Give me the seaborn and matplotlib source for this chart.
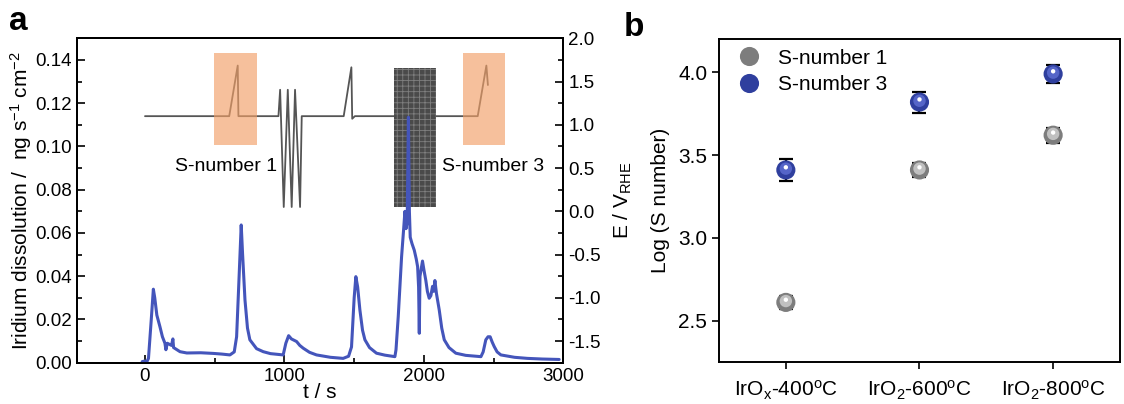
import numpy as np
import pandas as pd
import seaborn as sns
import matplotlib.pyplot as plt
from matplotlib.ticker import MultipleLocator

# panel a: iridium dissolution trace
time_s = [-20, 0, 10, 25, 45, 60, 70, 85, 107, 125, 143, 150, 160, 190, 200, 205, 251, 300, 400, 490,
          550, 609, 640, 657, 675, 690, 700, 717, 735, 752, 800, 848, 900, 991, 1010, 1030, 1050, 1087,
          1110, 1135, 1180, 1230, 1330, 1421, 1460, 1481, 1500, 1512, 1525, 1541, 1560, 1577, 1610,
          1660, 1720, 1792, 1800, 1816, 1840, 1855, 1864, 1872, 1880, 1889, 1896, 1902, 1915, 1931,
          1945, 1955, 1962, 1967, 1972, 1990, 2000, 2014, 2025, 2038, 2050, 2062, 2070, 2079, 2090,
          2110, 2128, 2146, 2180, 2229, 2300, 2409, 2425, 2444, 2460, 2475, 2490, 2504, 2525, 2552,
          2650, 2743, 2850, 2970]
ir_diss = [0.0005, 0.0008, 0.0, 0.002, 0.020, 0.034, 0.030, 0.022, 0.0167, 0.012, 0.009, 0.006, 0.009,
           0.008, 0.011, 0.007, 0.0051, 0.0045, 0.0046, 0.0043, 0.0040, 0.0036, 0.0050, 0.012, 0.040,
           0.0637, 0.050, 0.029, 0.016, 0.0106, 0.0065, 0.0051, 0.0042, 0.0036, 0.009, 0.0125, 0.011,
           0.0098, 0.008, 0.0067, 0.0048, 0.0036, 0.0025, 0.002, 0.003, 0.0073, 0.030, 0.0398, 0.035,
           0.0244, 0.015, 0.0106, 0.007, 0.0044, 0.0035, 0.0028, 0.006, 0.0213, 0.049, 0.062, 0.070,
           0.062, 0.065, 0.1135, 0.070, 0.058, 0.055, 0.052, 0.048, 0.0444, 0.035, 0.0136, 0.040,
           0.047, 0.043, 0.038, 0.033, 0.0298, 0.031, 0.0353, 0.033, 0.038, 0.032, 0.0244, 0.016,
           0.0106, 0.007, 0.0044, 0.0034, 0.0028, 0.005, 0.0106, 0.012, 0.012, 0.0095, 0.0075, 0.005,
           0.0036, 0.0025, 0.002, 0.0017, 0.0015]

# potential programme (right axis)
pot_t = [0, 604, 665, 670, 957, 969, 995, 1024, 1052, 1076, 1112, 1124, 1425, 1480, 1486, 1505, 1785,
         2088, 2386, 2448, 2459]
pot_e = [1.1, 1.1, 1.685, 1.1, 1.1, 1.405, 0.05, 1.405, 0.05, 1.405, 0.05, 1.1, 1.1, 1.665, 1.07, 1.1,
         1.1, 1.1, 1.1, 1.685, 1.46]
block_t = [1785, 2088]
block_e = [0.05, 1.654]
box_t = [(495, 801), (2279, 2584)]
box_e = [0.761, 1.834]

# panel b
samples = ['IrO$_{\\mathrm{x}}$-400$^{\\mathrm{o}}$C', 'IrO$_2$-600$^{\\mathrm{o}}$C',
           'IrO$_2$-800$^{\\mathrm{o}}$C']
s1 = [2.61, 3.41, 3.62]
s1_err = [0.04, 0.04, 0.045]
s3 = [3.41, 3.82, 3.99]
s3_err = [0.065, 0.063, 0.053]

sns.set_style('ticks')
plt.rcParams['font.family'] = ['Liberation Sans', 'DejaVu Sans']
plt.rcParams['mathtext.fontset'] = 'custom'
plt.rcParams['mathtext.rm'] = 'Liberation Sans'
plt.rcParams['mathtext.it'] = 'Liberation Sans:italic'
plt.rcParams['axes.unicode_minus'] = False
plt.rcParams['hatch.linewidth'] = 0.6
for k in ['text.color', 'axes.labelcolor', 'xtick.color', 'ytick.color', 'axes.edgecolor']:
    plt.rcParams[k] = 'black'

fig = plt.figure(figsize=(11.24, 4.04), dpi=100)
ax = fig.add_axes([0.0682, 0.1022, 0.4330, 0.8030])
ax2 = ax.twinx()
axb = fig.add_axes([0.6397, 0.1040, 0.3567, 0.7990])

fs = 13.5
fsb = 15

# ---- panel a
df = pd.DataFrame({'t': time_s, 'v': ir_diss})
sns.lineplot(data=df, x='t', y='v', ax=ax, color='#4455bb', lw=2.2, sort=False, estimator=None)
ax.set_xlim(-490, 3000)
ax.set_ylim(0, 0.15)
ax.xaxis.set_major_locator(MultipleLocator(1000))
ax.xaxis.set_minor_locator(MultipleLocator(500))
ax.yaxis.set_major_locator(MultipleLocator(0.02))
ax.yaxis.set_minor_locator(MultipleLocator(0.01))
ax.yaxis.set_major_formatter(plt.FormatStrFormatter('%.2f'))
ax.tick_params(which='both', direction='in', labelsize=fs, width=1.2, top=False)
ax.tick_params(which='major', length=6)
ax.tick_params(which='minor', length=3.5)
ax.set_xlabel('t / s', fontsize=fsb, labelpad=-1)
ax.set_ylabel('Iridium dissolution /  ng s$^{-1}$ cm$^{-2}$', fontsize=fsb, labelpad=1)

dp = pd.DataFrame({'t': pot_t, 'E': pot_e})
sns.lineplot(data=dp, x='t', y='E', ax=ax2, color='#555555', lw=1.3, sort=False, estimator=None)
ax2.fill_between(block_t, block_e[0], block_e[1], facecolor='#4a4a4a', edgecolor='#7f7f7f',
                 hatch='+++', lw=0, zorder=3)
for t0, t1 in box_t:
    ax2.fill_between([t0, t1], box_e[0], box_e[1], color='#f29f67', alpha=0.65, lw=0, zorder=4)
ax2.text(944, 0.52, 'S-number 1', fontsize=fs + 0.5, ha='right', va='center')
ax2.text(2128, 0.52, 'S-number 3', fontsize=fs + 0.5, ha='left', va='center')
ax2.set_ylim(-1.75, 2.0)
ax2.yaxis.set_major_locator(MultipleLocator(0.5))
ax2.yaxis.set_minor_locator(MultipleLocator(0.25))
ax2.yaxis.set_major_formatter(plt.FormatStrFormatter('%.1f'))
ax2.tick_params(which='both', direction='in', labelsize=fs, width=1.2)
ax2.tick_params(which='major', length=6)
ax2.tick_params(which='minor', length=3.5)
ax2.set_ylabel('E / V$_{\\mathrm{RHE}}$', fontsize=fsb, labelpad=8)
ax.set_zorder(ax2.get_zorder() + 1)
ax.patch.set_visible(False)
for a in (ax, ax2):
    for s in a.spines.values():
        s.set_linewidth(1.4)

# ---- panel b
pos = np.arange(len(samples))
db = pd.DataFrame({'x': np.concatenate([pos, pos]), 'y': s1 + s3,
                   'set': ['S-number 1'] * 3 + ['S-number 3'] * 3})
axb.errorbar(pos, s1, yerr=s1_err, fmt='none', ecolor='black', capsize=5, elinewidth=1.6,
             capthick=1.6, zorder=2)
axb.errorbar(pos, s3, yerr=s3_err, fmt='none', ecolor='black', capsize=5, elinewidth=1.6,
             capthick=1.6, zorder=2)
sns.scatterplot(data=db, x='x', y='y', hue='set', palette=['#7d7d7d', '#2f3f9e'], s=190,
                edgecolor='none', ax=axb, zorder=3)
# shading for the sphere look
axb.scatter(pos, np.array(s1) + 0.008, s=80, color='#c0c0c0', edgecolor='none', zorder=4)
axb.scatter(pos, np.array(s3) + 0.008, s=80, color='#5565c8', edgecolor='none', zorder=4)
axb.scatter(pos, np.array(s1) + 0.016, s=10, color='white', edgecolor='none', zorder=5)
axb.scatter(pos, np.array(s3) + 0.016, s=10, color='white', edgecolor='none', zorder=5)
axb.set_xlim(-0.5, 2.5)
axb.set_ylim(2.25, 4.2)
axb.set_xticks(pos)
axb.set_xticklabels(samples)
axb.yaxis.set_major_locator(MultipleLocator(0.5))
axb.yaxis.set_major_formatter(plt.FormatStrFormatter('%.1f'))
axb.tick_params(direction='out', labelsize=fsb, width=1.2, length=5)
axb.tick_params(axis='x', pad=7)
axb.set_xlabel('')
axb.set_ylabel('Log (S number)', fontsize=fsb, labelpad=6)
for s in axb.spines.values():
    s.set_linewidth(1.4)
leg = axb.legend(loc='upper left', frameon=False, fontsize=fsb, handletextpad=0.4,
                 borderaxespad=0.3, borderpad=0.15, handlelength=2.0, labelspacing=0.35)

fig.text(0.008, 0.925, 'a', fontsize=24, fontweight='bold')
fig.text(0.555, 0.91, 'b', fontsize=24, fontweight='bold')

fig.savefig('out.png', dpi=100)
